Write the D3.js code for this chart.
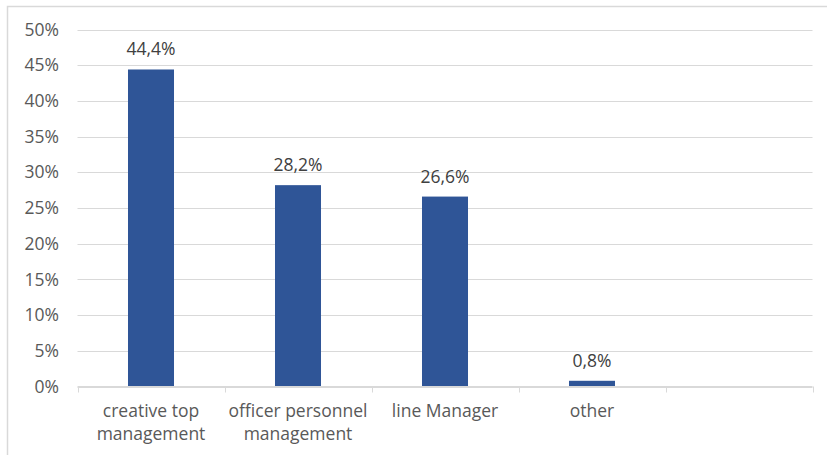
<!DOCTYPE html>
<html><head><meta charset="utf-8">
<script src="https://cdn.jsdelivr.net/npm/d3@7"></script>
<style>body{margin:0;background:#fff;} svg{display:block;}</style>
</head><body>
<script>
const categories = ["creative top management", "officer personnel management", "line Manager", "other", ""];
const values = [44.4, 28.2, 26.6, 0.8, null];
const valueLabels = ["44,4%", "28,2%", "26,6%", "0,8%", ""];
const yTicks = [0, 5, 10, 15, 20, 25, 30, 35, 40, 45, 50];
const catLines = [["creative top", "management"], ["officer personnel", "management"], ["line Manager"], ["other"], []];

(function () {
const W = 827, H = 455;
const svg = d3.select("body").append("svg").attr("width", W).attr("height", H);
svg.append("rect").attr("x", 7.5).attr("y", 6.5).attr("width", 840).attr("height", 470)
  .attr("fill", "#fff").attr("stroke", "#d9d9d9").attr("stroke-width", 1.5);

const pL = 77.5, pR = 812.5, pT = 29.5, pB = 386.5;
const x = d3.scaleBand().domain(d3.range(categories.length)).range([pL, pR]).paddingInner(0.687).paddingOuter(0.3435);
const xOuter = d3.scaleBand().domain(d3.range(categories.length)).range([pL, pR]);
const y = d3.scaleLinear().domain([0, 50]).range([pB, pT]);
const font = "'Open Sans', sans-serif";
const fs = "17.5px";

svg.append("g").selectAll("line").data(yTicks).join("line")
  .attr("x1", pL).attr("x2", pR)
  .attr("y1", d => Math.round(y(d)) + 0.5).attr("y2", d => Math.round(y(d)) + 0.5)
  .attr("stroke", "#d9d9d9").attr("stroke-width", 1);

svg.append("g").selectAll("text").data(yTicks).join("text")
  .attr("x", 59).attr("y", d => y(d)).attr("dy", "0.35em")
  .attr("text-anchor", "end").attr("fill", "#595959")
  .style("font-family", font).style("font-size", fs)
  .text(d => d + "%");

const bd = values.map((v, i) => ({v, i})).filter(d => d.v != null);
svg.append("g").selectAll("rect").data(bd).join("rect")
  .attr("x", d => x(d.i)).attr("width", x.bandwidth())
  .attr("y", d => y(d.v)).attr("height", d => y(0) - y(d.v))
  .attr("fill", "#2f5597");

svg.append("g").selectAll("text").data(bd).join("text")
  .attr("x", d => x(d.i) + x.bandwidth() / 2).attr("y", d => y(d.v) - 14)
  .attr("text-anchor", "middle").attr("fill", "#404040")
  .style("font-family", font).style("font-size", fs)
  .text(d => valueLabels[d.i]);

const ax = svg.append("g");
ax.append("line").attr("x1", pL).attr("x2", pR).attr("y1", pB).attr("y2", pB)
  .attr("stroke", "#d9d9d9").attr("stroke-width", 1.2);
const tickX = d3.range(categories.length + 1).map(i => i < categories.length ? xOuter(i) : pR);
ax.selectAll("line.t").data(tickX).join("line").attr("class", "t")
  .attr("x1", d => Math.round(d) + 0.5).attr("x2", d => Math.round(d) + 0.5)
  .attr("y1", pB).attr("y2", pB + 6)
  .attr("stroke", "#d9d9d9").attr("stroke-width", 1);

const cg = svg.append("g").selectAll("text").data(catLines).join("text")
  .attr("text-anchor", "middle").attr("fill", "#595959")
  .style("font-family", font).style("font-size", fs)
  .attr("x", (d, i) => xOuter(i) + xOuter.bandwidth() / 2);
cg.selectAll("tspan").data(d => d).join("tspan")
  .attr("x", function() { return d3.select(this.parentNode).attr("x"); })
  .attr("y", (d, j) => 417 + j * 23)
  .text(d => d);
})();
</script>
</body></html>
